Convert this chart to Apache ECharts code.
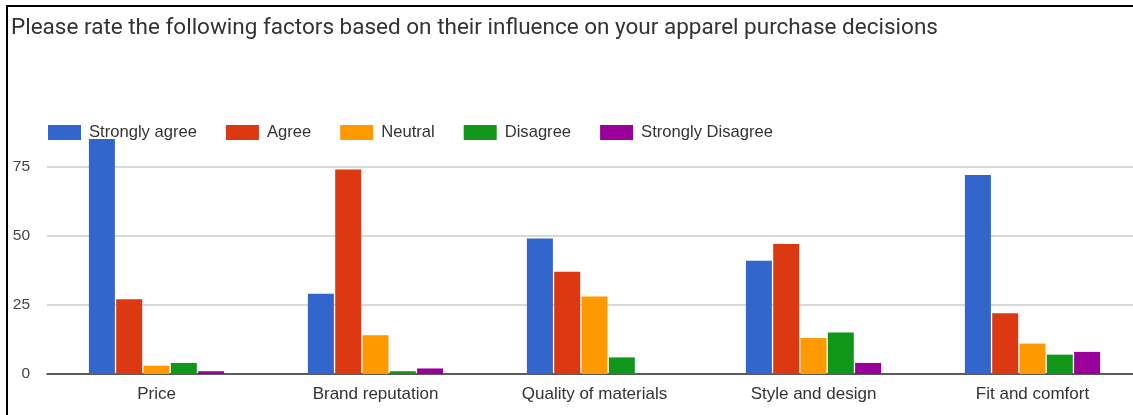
<!DOCTYPE html>
<html>
<head>
<meta charset="utf-8">
<script src="https://cdn.jsdelivr.net/npm/echarts@6/dist/echarts.min.js"></script>
<style>
  html, body { margin: 0; padding: 0; background: #fff; overflow: hidden; }
  /* the plot runs slightly past the right edge of the window, so the canvas is wider */
  #chart { width: 1150px; height: 415px; }
  #frame {
    position: absolute; left: 6px; top: 5px; right: 0; bottom: 0;
    border-top: 2px solid #000; border-left: 2px solid #000;
    pointer-events: none;
  }
</style>
</head>
<body>
<div id="chart"></div>
<div id="frame"></div>
<script>
const titleText = 'Please rate the following factors based on their influence on your apparel purchase decisions';
const categories = ['Price', 'Brand reputation', 'Quality of materials', 'Style and design', 'Fit and comfort'];
const seriesNames = ['Strongly agree', 'Agree', 'Neutral', 'Disagree', 'Strongly Disagree'];
const stronglyAgree = [85, 29, 49, 41, 72];
const agree = [27, 74, 37, 47, 22];
const neutral = [3, 14, 28, 13, 11];
const disagree = [4, 1, 6, 15, 7];
const stronglyDisagree = [1, 2, 0, 4, 8];
const yTicks = [0, 25, 50, 75];

const colors = ['#3366cc', '#dc3912', '#ff9900', '#109618', '#990099'];
const values = [stronglyAgree, agree, neutral, disagree, stronglyDisagree];
const font = '"Liberation Sans", Arial, sans-serif';

const chart = echarts.init(document.getElementById('chart'), null, { renderer: 'canvas' });
chart.setOption({
  animation: false,
  color: colors,
  title: {
    text: titleText,
    left: 11, top: 17, padding: 0,
    textStyle: { fontFamily: 'Roboto, sans-serif', fontSize: 22.5, fontWeight: 'normal', color: '#333' }
  },
  legend: {
    data: seriesNames,
    left: 48, top: 124, padding: 0,
    itemWidth: 33, itemHeight: 15, itemGap: 29,
    icon: 'rect',
    textStyle: { fontFamily: font, fontSize: 16.6, color: '#333', padding: [0, 0, 0, 3] }
  },
  grid: { left: 47, width: 1095, top: 139, height: 235, containLabel: false },
  xAxis: {
    type: 'category',
    data: categories,
    axisTick: { show: false },
    axisLine: { lineStyle: { color: '#333', width: 1.5 } },
    axisLabel: { fontFamily: font, fontSize: 17, color: '#333', margin: 12 }
  },
  yAxis: {
    type: 'value',
    min: yTicks[0], max: 85, interval: yTicks[1] - yTicks[0],
    axisLabel: { fontFamily: font, fontSize: 15.5, color: '#444', margin: 17, showMaxLabel: false },
    axisLine: { show: false },
    axisTick: { show: false },
    splitLine: { lineStyle: { color: ['#cccccc', '#cccccc', '#cccccc', '#cccccc', 'rgba(0,0,0,0)'], width: 1.5 } }
  },
  series: seriesNames.map((name, i) => ({
    name,
    type: 'bar',
    data: values[i],
    barWidth: 26,
    barGap: '5%',
    itemStyle: { color: colors[i] }
  }))
});
</script>
</body>
</html>
